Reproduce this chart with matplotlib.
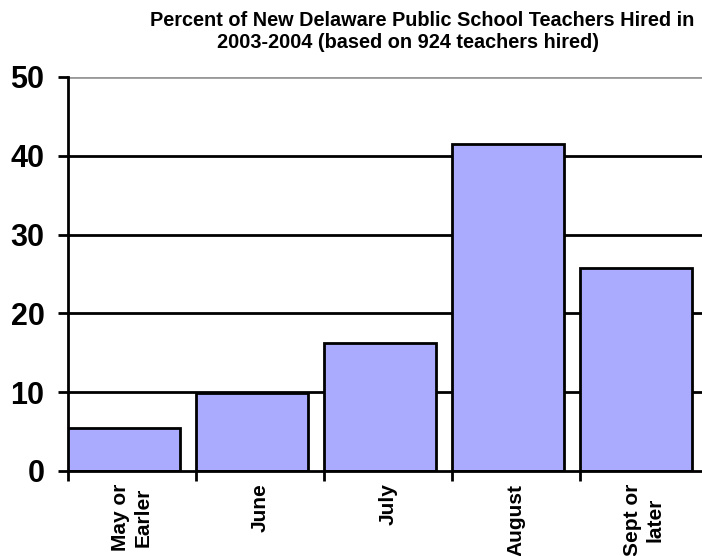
import numpy as np
import matplotlib.pyplot as plt

plt.rcParams['font.family'] = ['Liberation Sans', 'DejaVu Sans']

months = ['May or\nEarler', 'June', 'July', 'August', 'Sept or\nlater']
percent = [5.5, 9.9, 16.2, 41.5, 25.8]

fig = plt.figure(figsize=(7.02, 5.56), dpi=100)
ax = fig.add_axes([68/702, 85/556, 1 - 68/702, (471-77)/556])

x = np.arange(len(months))
ax.bar(x, percent, width=0.875, align='edge', color='#aaaaff',
       edgecolor='black', linewidth=2, zorder=3)

ax.set_ylim(0, 50)
ax.set_xlim(0, (702-68)/128)
ax.set_yticks([0, 10, 20, 30, 40, 50])
ax.set_yticklabels(['0', '10', '20', '30', '40', '50'], fontsize=22, fontweight='bold')
for yv in [10, 20, 30, 40]:
    ax.axhline(yv, color='black', lw=2, zorder=1)
ax.axhline(50, color='#999999', lw=2, zorder=1)

# category boundaries as ticks, labels centered
ax.set_xticks(np.arange(0, 5))
ax.set_xticklabels([])
ax.set_xticks(x + 0.5, minor=True)
ax.set_xticklabels(months, minor=True, rotation=90, fontsize=15, fontweight='bold',
                   ha='center', va='top', linespacing=1.25)
ax.tick_params(axis='x', which='minor', length=0, pad=9)
ax.tick_params(axis='x', which='major', length=7, width=2, direction='out')
ax.tick_params(axis='y', length=7, width=2, direction='out', pad=10)

for s in ['top', 'right']:
    ax.spines[s].set_visible(False)
ax.spines['left'].set_linewidth(2)
ax.spines['bottom'].set_linewidth(2)
ax.spines['bottom'].set_zorder(4)

fig.text(422/702, 1 - 20/556, 'Percent of New Delaware Public School Teachers Hired in',
         ha='center', va='center', fontsize=14.3, fontweight='bold')
fig.text(408/702, 1 - 42/556, '2003-2004 (based on 924 teachers hired)',
         ha='center', va='center', fontsize=14.3, fontweight='bold')

fig.savefig('out.png', dpi=100)
